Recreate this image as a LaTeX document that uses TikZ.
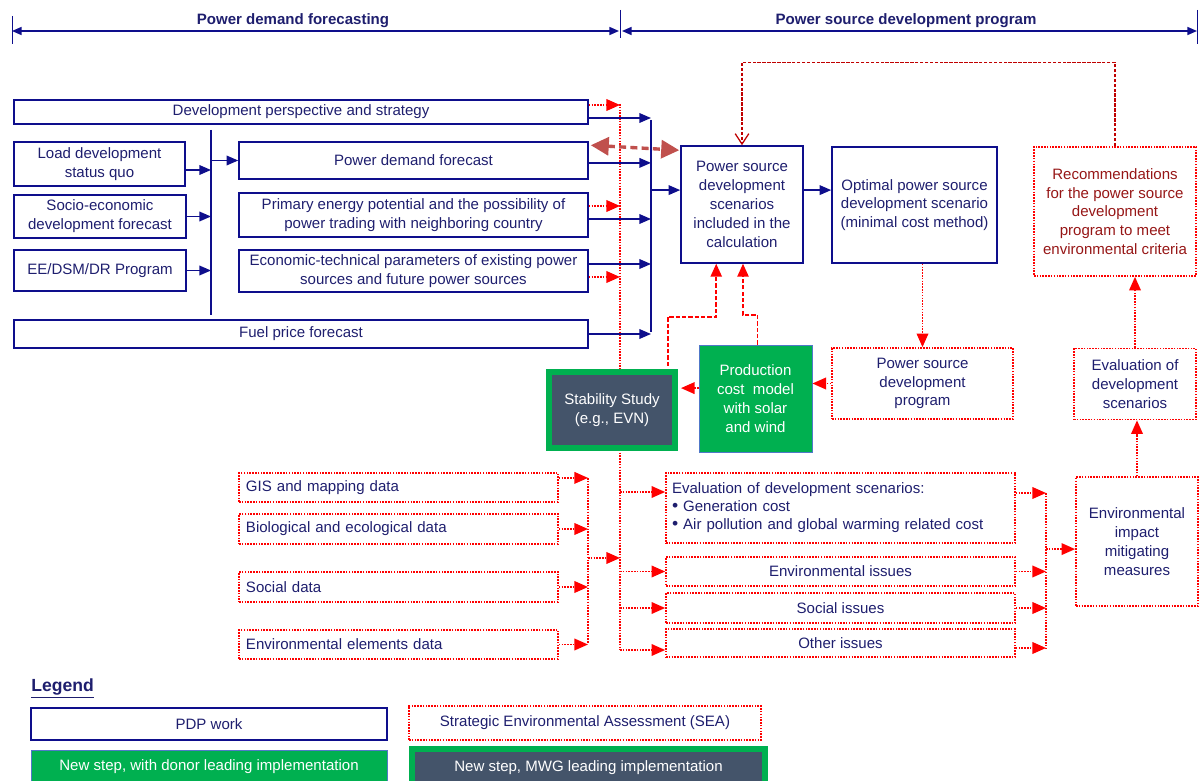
\documentclass[tikz,border=0pt]{standalone}
\usepackage{fontspec}
\setmainfont{Liberation Sans}
\usetikzlibrary{arrows.meta, positioning, calc}
\definecolor{pdpblue}{RGB}{14,14,140}
\definecolor{navytext}{RGB}{30,30,110}
\definecolor{seared}{RGB}{255,0,0}
\definecolor{recred}{RGB}{150,22,22}
\definecolor{loopred}{RGB}{192,0,0}
\definecolor{linkbrown}{RGB}{192,80,77}
\definecolor{newgreen}{RGB}{0,176,80}
\definecolor{mwgslate}{RGB}{68,84,106}
\definecolor{donorblue}{RGB}{80,120,200}

\tikzset{
    pdpbox/.style={draw=pdpblue, line width=1.1pt, text=navytext, align=center, inner sep=1pt},
    seabox/.style={draw=seared, line width=1.2pt, dash pattern=on 1.1pt off 0.9pt, text=navytext, align=center, inner sep=1pt},
    donorbox/.style={draw=donorblue, line width=0.6pt, fill=newgreen, text=white, align=center},
    mwgbox/.style={draw=newgreen, line width=1.5mm, fill=mwgslate, text=white, align=center},
    databox/.style={seabox, align=left, text width=76.25mm, inner sep=1.75mm, minimum height=7.25mm},
    pdpline/.style={draw=pdpblue, line width=1.1pt},
    pdparrow/.style={pdpline, -{Triangle[length=2.9mm,width=2.4mm]}},
    spanarrow/.style={pdpline, {Triangle[length=2.4mm,width=2mm]}-{Triangle[length=2.4mm,width=2mm]}},
    sealine/.style={draw=seared, line width=1.2pt, dash pattern=on 1.1pt off 0.9pt},
    seaarrow/.style={sealine, -{Triangle[length=3.4mm,width=2.9mm]}},
    newarrow/.style={draw=seared, line width=1.1pt, dash pattern=on 3pt off 1.5pt, -{Triangle[length=3.2mm,width=2.8mm]}},
    looparrow/.style={draw=loopred, line width=0.9pt, dash pattern=on 2.5pt off 1pt, -{Straight Barb[length=2.6mm,width=3.4mm]}},
    linkarrow/.style={draw=linkbrown, line width=2.4pt, dash pattern=on 5pt off 3pt, {Triangle[length=4.5mm,width=4.5mm]}-{Triangle[length=4.5mm,width=4.5mm]}},
}
\newcommand{\keydot}{\raisebox{0.3pt}{\fontsize{12.5}{12}\selectfont\textbullet}}

\begin{document}
\begin{tikzpicture}[x=0.25mm, y=-0.25mm, font=\fontsize{10.7}{13.4}\selectfont]
    \useasboundingbox (0,0) rectangle (1200,781);

    % header spans
    \coordinate (hl) at (12,31);
    \coordinate (hm) at (619,31);
    \coordinate (hm2) at (622,31);
    \coordinate (hr) at (1197,31);
    \draw[pdpblue, line width=0.7pt] ($(hl)+(0,-15)$) -- ($(hl)+(0,13)$);
    \draw[pdpblue, line width=0.7pt] ($(hm)+(1,-21)$) -- ($(hm)+(1,7)$);
    \draw[pdpblue, line width=0.7pt] ($(hr)+(0,-21)$) -- ($(hr)+(0,13)$);
    \draw[spanarrow] (hl) -- (hm);
    \draw[spanarrow] (hm2) -- (hr);
    \node[font=\fontsize{10.7}{13}\selectfont\bfseries, text=navytext] (pdfhead) at (293,21) {Power demand forecasting};
    \node[font=\fontsize{10.7}{13}\selectfont\bfseries, text=navytext] (psdhead) at (906,21) {Power source development program};

    % collecting lines
    \coordinate (b1t) at (211,130);  \coordinate (b1b) at (211,315);
    \coordinate (b2t) at (651,120);  \coordinate (b2b) at (651,332);
    \coordinate (r1t) at (620,104);  \coordinate (r1b) at (620,650);
    \coordinate (d1t) at (588,478);  \coordinate (d1b) at (588,643);
    \coordinate (d1m) at (588,558);
    \coordinate (e1t) at (1046,493); \coordinate (e1b) at (1046,650);
    \draw[sealine] (r1t) -- (r1b);

    % power demand forecasting
    \node[pdpbox, minimum width=143.5mm, minimum height=6mm] (devstrat) at (301,112) {Development perspective and strategy};
    \node[pdpbox, minimum width=42.75mm, minimum height=11mm] (load) at (99.5,164) {Load development\\status quo};
    \node[pdpbox, minimum width=43mm, minimum height=10.75mm] (socio) at (100,216.5) {Socio-economic\\development forecast};
    \node[pdpbox, minimum width=43mm, minimum height=10.25mm] (ee) at (100,270.5) {EE/DSM/DR Program};
    \node[pdpbox, minimum width=143.5mm, minimum height=7mm] (fuel) at (301,334) {Fuel price forecast};
    \node[pdpbox, minimum width=87.25mm, minimum height=9.25mm] (demand) at (413.5,160.5) {Power demand forecast};
    \node[pdpbox, minimum width=87.25mm, minimum height=11mm] (primary) at (413.5,215) {Primary energy potential and the possibility of\\power trading with neighboring country};
    \node[pdpbox, minimum width=87.25mm, minimum height=10.5mm] (econ) at (413.5,271) {Economic-technical parameters of existing power\\sources and future power sources};

    % power source development program
    \node[pdpbox, minimum width=30.5mm, minimum height=29.25mm] (pss) at (742,204.5) {Power source\\development\\scenarios\\included in the\\calculation};
    \node[pdpbox, minimum width=41.25mm, minimum height=29mm] (optimal) at (914.5,205) {Optimal power source\\development scenario\\(minimal cost method)};
    \node[seabox, text=recred, minimum width=40.5mm, minimum height=32.25mm] (rec) at (1115,211.5) {Recommendations\\for the power source\\development\\program to meet\\environmental criteria};
    \node[seabox, minimum width=45.25mm, minimum height=17.75mm] (psdp) at (922.5,383.5) {Power source\\development\\program};
    \node[seabox, minimum width=30.5mm, minimum height=17.75mm] (evalds) at (1135,384) {Evaluation of\\development\\scenarios};
    \node[donorbox, minimum width=28.25mm, minimum height=26.75mm] (prod) at (755.5,398.5) {Production\\cost\ \ model\\with solar\\and wind};
    \node[mwgbox, minimum width=31.5mm, minimum height=19mm] (stab) at (612,410) {Stability Study\\(e.g., EVN)};

    % SEA
    \node[databox] (gis) at (398.5,487.5) {GIS and mapping data};
    \node[databox, minimum height=7.5mm] (bio) at (398.5,529) {Biological and ecological data};
    \node[databox, minimum height=7.5mm] (socd) at (398.5,587) {Social data};
    \node[databox] (envd) at (398.5,644.5) {Environmental elements data};
    \node[seabox, align=left, text width=84.25mm, inner sep=1.5mm, minimum height=17.5mm, font=\fontsize{10.7}{12.8}\selectfont] (eval) at (840.5,508) {Evaluation of development scenarios:\\\keydot\ Generation cost\\\keydot\ Air pollution and global warming related cost};
    \node[seabox, minimum width=87.25mm, minimum height=7.25mm] (envi) at (840.5,571.5) {Environmental issues};
    \node[seabox, minimum width=87.25mm, minimum height=7.5mm] (soci) at (840.5,608) {Social issues};
    \node[seabox, minimum width=87.25mm, minimum height=7mm] (othi) at (840.5,643) {Other issues};
    \node[seabox, minimum width=30.5mm, minimum height=32.25mm] (eimm) at (1137,541.5) {Environmental\\impact\\mitigating\\measures};

    % PDP connectors
    \draw[pdpline] (b1t) -- (b1b);
    \draw[pdparrow] ([yshift=-1.5mm]load.east) -- ([yshift=-1.5mm]load.east -| b1t);
    \draw[pdparrow] (socio.east) -- (socio.east -| b1t);
    \draw[pdparrow] (ee.east) -- (ee.east -| b1t);
    \draw[pdparrow] (b1t |- demand.west) -- (demand.west);
    \draw[pdpline] (b2t) -- (b2b);
    \draw[pdparrow] ([yshift=-1.5mm]devstrat.east) -- ([yshift=-1.5mm]devstrat.east -| b2t);
    \draw[pdparrow] ([yshift=-0.6mm]demand.east) -- ([yshift=-0.6mm]demand.east -| b2t);
    \draw[pdparrow] ([yshift=-1mm]primary.east) -- ([yshift=-1mm]primary.east -| b2t);
    \draw[pdparrow] ([yshift=1.75mm]econ.east) -- ([yshift=1.75mm]econ.east -| b2t);
    \draw[pdparrow] (fuel.east) -- (fuel.east -| b2t);
    \draw[pdparrow] ([yshift=3.6mm]pss.west -| b2t) -- ([yshift=3.6mm]pss.west);
    \draw[pdparrow] ([yshift=3.6mm]pss.east) -- ([yshift=3.6mm]pss.east -| optimal.west);

    % SEA connectors
    \draw[seaarrow] ([yshift=1.75mm]devstrat.east) -- ([yshift=1.75mm]devstrat.east -| r1t);
    \draw[seaarrow] ([yshift=2.25mm]primary.east) -- ([yshift=2.25mm]primary.east -| r1t);
    \draw[seaarrow] ([yshift=-1.5mm]econ.east) -- ([yshift=-1.5mm]econ.east -| r1t);
    \draw[sealine] (d1t) -- (d1b);
    \draw[seaarrow] ([yshift=2.4mm]gis.east) -- ([yshift=2.4mm]gis.east -| d1t);
    \draw[seaarrow] (bio.east) -- (bio.east -| d1t);
    \draw[seaarrow] (socd.east) -- (socd.east -| d1t);
    \draw[seaarrow] (envd.east) -- (envd.east -| d1t);
    \draw[seaarrow] (d1m) -- (d1m -| r1t);
    \draw[seaarrow] ([yshift=4mm]eval.west -| r1t) -- ([yshift=4mm]eval.west);
    \draw[seaarrow] (envi.west -| r1t) -- (envi.west);
    \draw[seaarrow] (soci.west -| r1t) -- (soci.west);
    \draw[seaarrow] (r1b) -- (r1b -| othi.west);
    \draw[sealine] (e1t) -- (e1b);
    \draw[seaarrow] ([yshift=3.75mm]eval.east) -- ([yshift=3.75mm]eval.east -| e1t);
    \draw[seaarrow] (envi.east) -- (envi.east -| e1t);
    \draw[seaarrow] (soci.east) -- (soci.east -| e1t);
    \draw[seaarrow] ([yshift=-1.25mm]othi.east) -- ([yshift=-1.25mm]othi.east -| e1t);
    \draw[seaarrow] ([yshift=-1.9mm]eimm.west -| e1t) -- ([yshift=-1.9mm]eimm.west);
    \draw[seaarrow] (eimm.north) -- (eimm.north |- evalds.south);
    \draw[seaarrow] (evalds.north) -- (evalds.north |- rec.south);
    \draw[seaarrow] (psdp.north |- optimal.south) -- (psdp.north);
    \draw[seaarrow] (psdp.west) -- (psdp.west -| prod.east);
    \draw[seaarrow] ([yshift=2.6mm]prod.west) -- ([xshift=0.75mm,yshift=2.6mm]prod.west -| stab.east);

    % new steps and feedback
    \draw[newarrow] ([xshift=-2.5mm,yshift=0.75mm]stab.north east) |- ([xshift=9mm,yshift=-13.25mm]pss.south west) -- ([xshift=9mm]pss.south west);
    \draw[newarrow] ([xshift=0.5mm]prod.north) |- ([xshift=0.25mm,yshift=-12.75mm]pss.south) -- ([xshift=0.25mm]pss.south);
    \draw[looparrow] (rec.north) |- ([yshift=20.75mm]pss.north) -- (pss.north);
    \draw[linkarrow] ([xshift=0.5mm,yshift=-1mm]demand.north east) -- ([xshift=-0.25mm,yshift=-1.25mm]pss.north west);

    % legend
    \node[font=\fontsize{12.5}{14}\selectfont\bfseries, text=navytext, anchor=west, inner sep=0pt] (legend) at (31,688) {\underline{Legend}};
    \node[pdpbox, minimum width=89mm, minimum height=8mm] (pdpkey) at (209,724) {PDP work};
    \node[seabox, minimum width=88mm, minimum height=8.5mm] (seakey) at (585,723) {Strategic Environmental Assessment (SEA)};
    \node[donorbox, minimum width=89mm, minimum height=8.5mm] (donorkey) at (209,767) {New step, with donor leading implementation};
    \node[mwgbox, minimum width=88.25mm, minimum height=9.5mm] (mwgkey) at (588.5,768) {New step, MWG leading implementation};
\end{tikzpicture}
\end{document}
